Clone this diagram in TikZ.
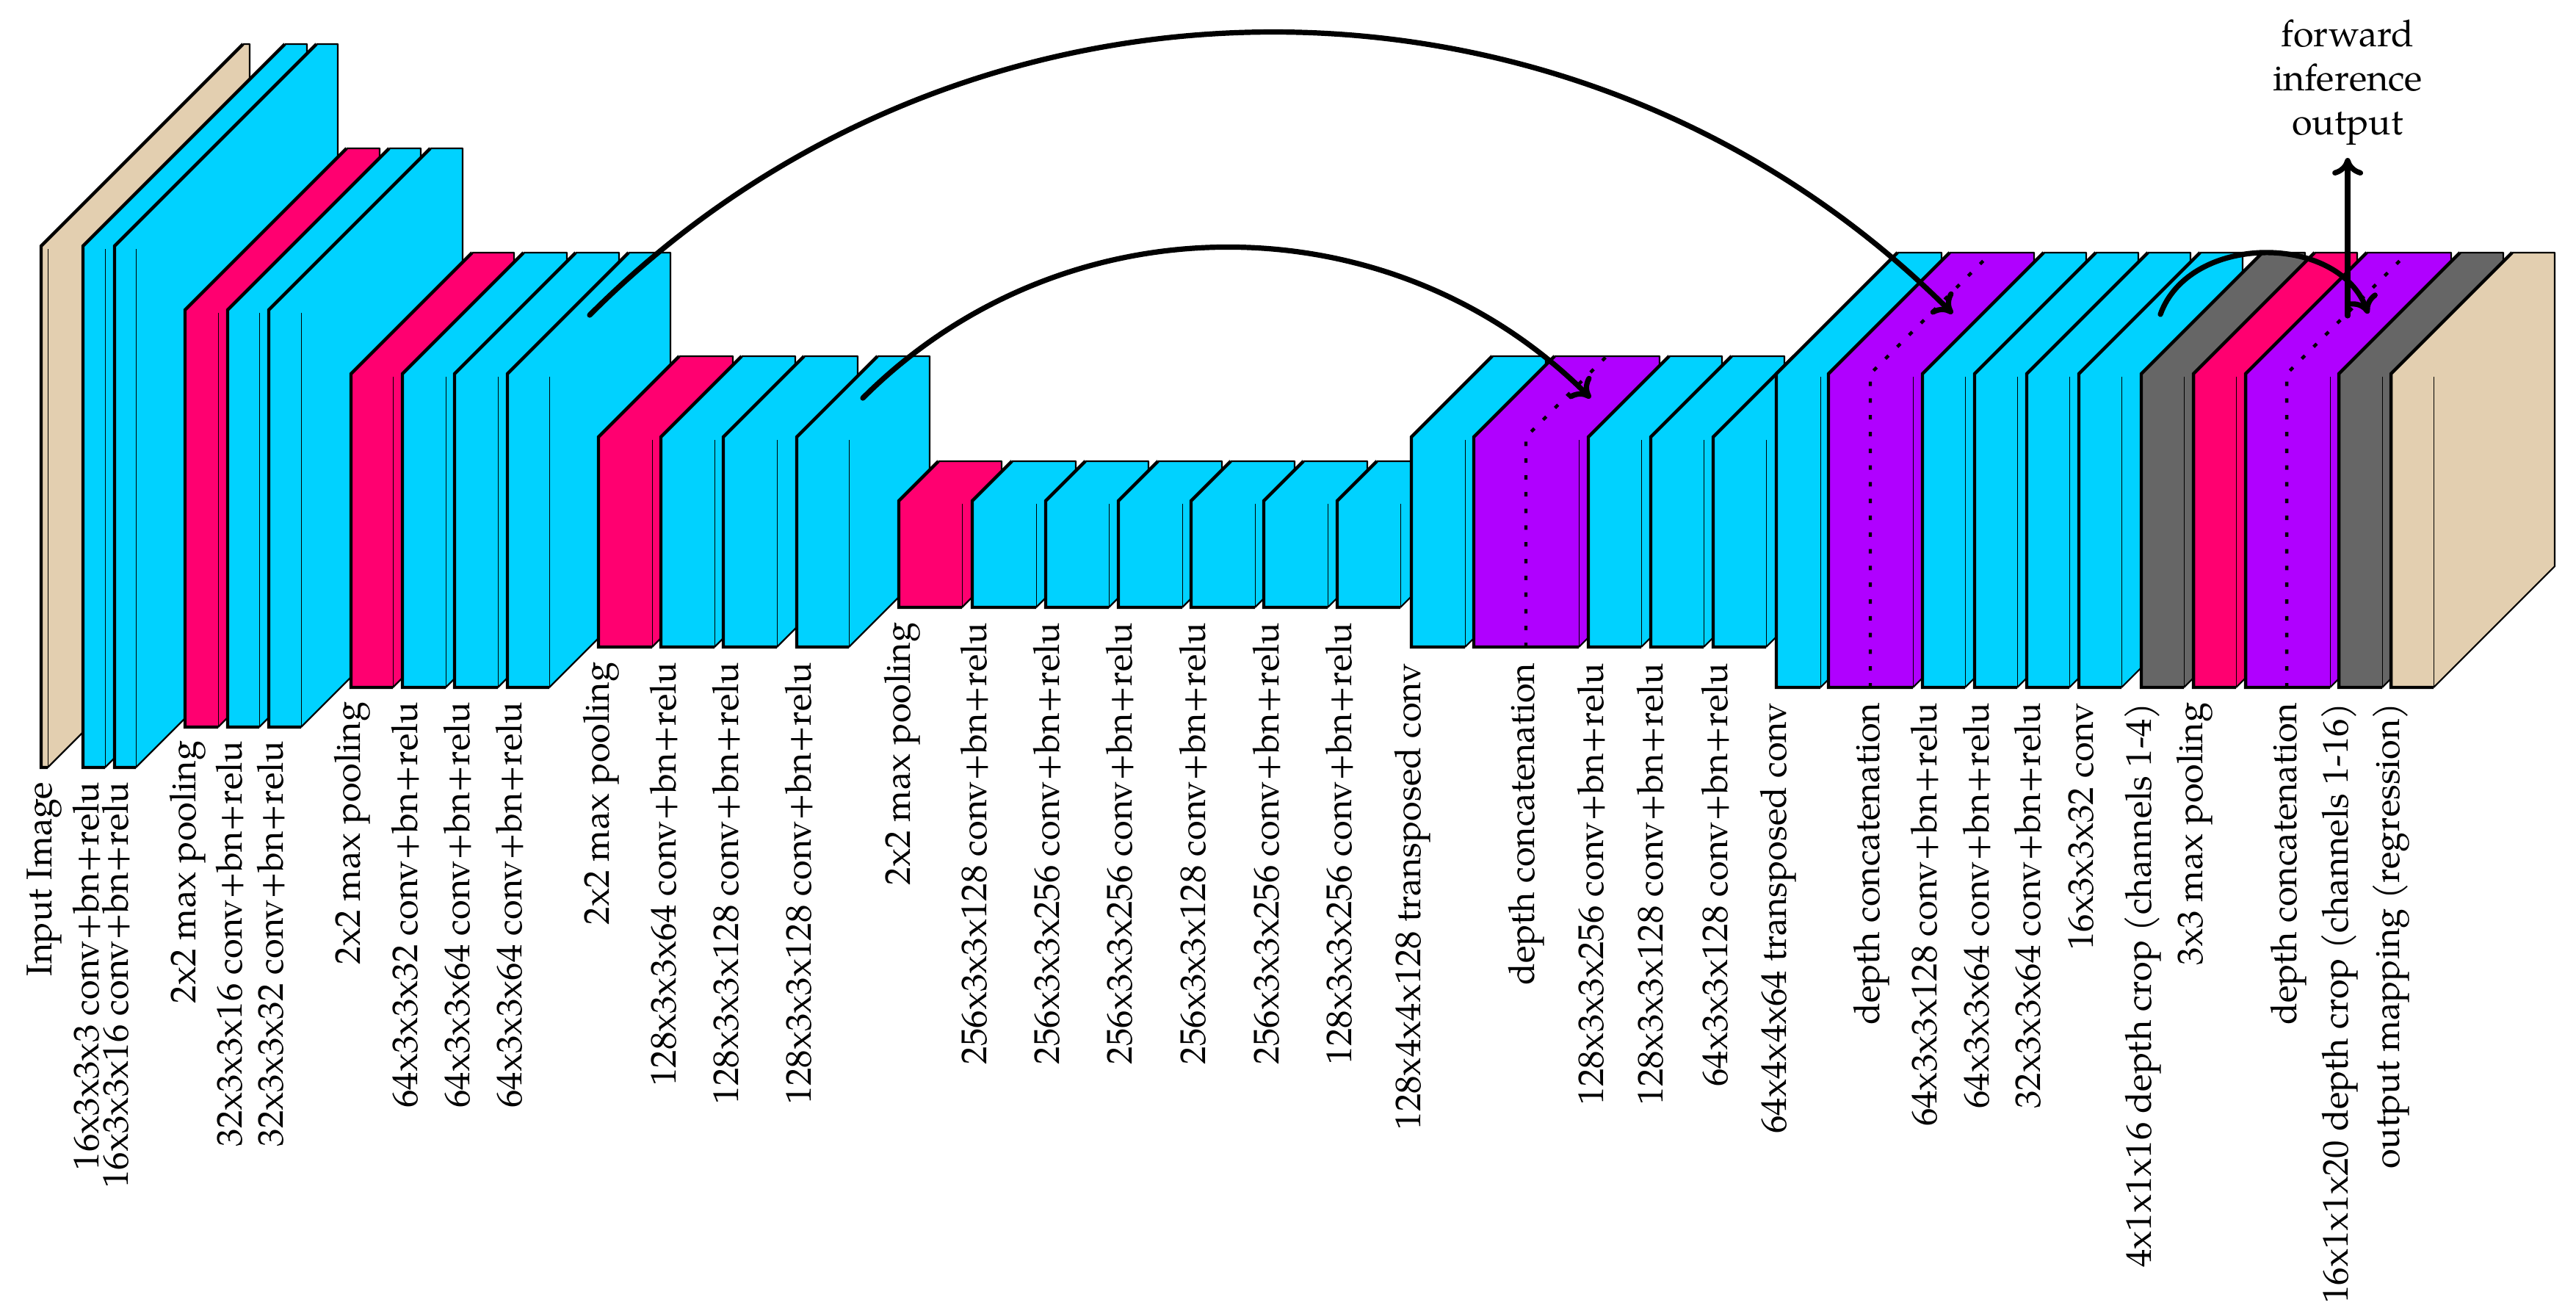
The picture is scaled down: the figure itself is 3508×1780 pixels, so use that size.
\documentclass[tikz,border=0pt]{standalone}
\usepackage{fontspec}
\setmainfont{TeX Gyre Pagella}
\usetikzlibrary{arrows.meta}
\definecolor{cblue}{RGB}{0,210,255}
\definecolor{cpink}{RGB}{255,0,112}
\definecolor{cpurple}{RGB}{176,0,255}
\definecolor{cgray}{RGB}{102,102,102}
\definecolor{cbeige}{RGB}{227,207,176}
\tikzset{
  heavy/.style={line width=1.1pt,line join=miter},
  light/.style={line width=0.55pt,line join=miter},
  hair/.style={line width=0.25pt},
  dots/.style={line width=1.1pt,dash pattern=on 1.5pt off 4.2pt},
  skip/.style={line width=1.8pt,-{Computer Modern Rightarrow[length=6pt,width=10.5pt]},line cap=round},
  lab/.style={rotate=90,anchor=base east,inner sep=0pt,font=\fontsize{12.2}{15}\selectfont},
}
% x0 x1 top bottom depth colour
\newcommand{\blk}[6]{%
  \fill[#6] (#1,#3) -- ({#1+#5},{#3-#5}) -- ({#2+#5},{#3-#5}) -- ({#2+#5},{#4-#5}) -- (#2,#4) -- (#1,#4) -- cycle;
  \draw[light,line join=round] ({#1+#5},{#3-#5}) -- ({#2+#5},{#3-#5}) -- ({#2+#5},{#4-#5}) -- (#2,#4);
  \draw[hair] (#2,{#3+4}) -- (#2,#4);
  \draw[heavy] ({#1+#5},{#3-#5}) -- (#1,#3) -- (#1,#4) -- (#2,#4);
}
% mid top bottom depth
\newcommand{\concatline}[4]{%
  \draw[dots] (#1,#3) -- (#1,#2) -- ({#1+#4},{#2-#4});
}
\newcommand{\lb}[4]{\node[lab] (#1) at (#2,#3) {#4};}
\begin{document}
\begin{tikzpicture}[x=0.25pt,y=-0.25pt]
\useasboundingbox (0,0) rectangle (3508,1780);
% level 1
\blk{56}{65}{335}{1045}{275}{cbeige}
\blk{113}{143}{335}{1045}{275}{cblue}
\blk{156}{185}{335}{1045}{275}{cblue}
% level 2
\blk{252}{297}{422}{990}{220}{cpink}
\blk{310}{353}{422}{990}{220}{cblue}
\blk{366}{410}{422}{990}{220}{cblue}
% level 3
\blk{478}{535}{509}{936}{165}{cpink}
\blk{548}{607}{509}{936}{165}{cblue}
\blk{619}{678}{509}{936}{165}{cblue}
\blk{691}{748}{509}{936}{165}{cblue}
% level 4
\blk{815}{888}{595}{881}{110}{cpink}
\blk{900}{973}{595}{881}{110}{cblue}
\blk{985}{1058}{595}{881}{110}{cblue}
\blk{1085}{1156}{595}{881}{110}{cblue}
% level 5
\blk{1224}{1310}{682}{827}{54}{cpink}
\blk{1324}{1411}{682}{827}{54}{cblue}
\blk{1424}{1510}{682}{827}{54}{cblue}
\blk{1523}{1610}{682}{827}{54}{cblue}
\blk{1622}{1709}{682}{827}{54}{cblue}
\blk{1721}{1808}{682}{827}{54}{cblue}
\blk{1821}{1907}{682}{827}{54}{cblue}
% level 4 up
\blk{1922}{1995}{595}{881}{110}{cblue}
\blk{2007}{2150}{595}{881}{110}{cpurple}
\concatline{2078}{595}{881}{110}
\blk{2163}{2235}{595}{881}{110}{cblue}
\blk{2248}{2320}{595}{881}{110}{cblue}
\blk{2333}{2405}{595}{881}{110}{cblue}
% level 3 up
\blk{2419}{2479}{509}{936}{165}{cblue}
\blk{2490}{2605}{509}{936}{165}{cpurple}
\concatline{2547}{509}{936}{165}
\blk{2618}{2676}{509}{936}{165}{cblue}
\blk{2689}{2747}{509}{936}{165}{cblue}
\blk{2760}{2818}{509}{936}{165}{cblue}
\blk{2831}{2889}{509}{936}{165}{cblue}
\blk{2916}{2974}{509}{936}{165}{cgray}
\blk{2987}{3045}{509}{936}{165}{cpink}
\blk{3058}{3173}{509}{936}{165}{cpurple}
\concatline{3114}{509}{936}{165}
\blk{3185}{3244}{509}{936}{165}{cgray}
\blk{3256}{3314}{509}{936}{165}{cbeige}
% labels
\lb{l01}{70}{1064}{Input Image}
\lb{l02}{134}{1064}{16x3x3x3 conv+bn+relu}
\lb{l03}{174}{1064}{16x3x3x16 conv+bn+relu}
\lb{l04}{266}{1008}{2x2 max pooling}
\lb{l05}{329}{1008}{32x3x3x16 conv+bn+relu}
\lb{l06}{385}{1008}{32x3x3x32 conv+bn+relu}
\lb{l07}{490}{955}{2x2 max pooling}
\lb{l08}{568}{955}{64x3x3x32 conv+bn+relu}
\lb{l09}{639}{955}{64x3x3x64 conv+bn+relu}
\lb{l10}{710}{955}{64x3x3x64 conv+bn+relu}
\lb{l11}{829}{901}{2x2 max pooling}
\lb{l12}{920}{901}{128x3x3x64 conv+bn+relu}
\lb{l13}{1005}{901}{128x3x3x128 conv+bn+relu}
\lb{l14}{1104}{901}{128x3x3x128 conv+bn+relu}
\lb{l15}{1239}{847}{2x2 max pooling}
\lb{l16}{1343}{847}{256x3x3x128 conv+bn+relu}
\lb{l17}{1442}{847}{256x3x3x256 conv+bn+relu}
\lb{l18}{1541}{847}{256x3x3x256 conv+bn+relu}
\lb{l19}{1641}{847}{256x3x3x128 conv+bn+relu}
\lb{l20}{1741}{847}{256x3x3x256 conv+bn+relu}
\lb{l21}{1840}{847}{128x3x3x256 conv+bn+relu}
\lb{l22}{1934}{902}{128x4x4x128 transposed conv}
\lb{l23}{2089}{902}{depth concatenation}
\lb{l24}{2183}{902}{128x3x3x256 conv+bn+relu}
\lb{l25}{2264}{902}{128x3x3x128 conv+bn+relu}
\lb{l26}{2352}{902}{64x3x3x128 conv+bn+relu}
\lb{l27}{2432}{956}{64x4x4x64 transposed conv}
\lb{l28}{2559}{956}{depth concatenation}
\lb{l29}{2637}{956}{64x3x3x128 conv+bn+relu}
\lb{l30}{2708}{956}{64x3x3x64 conv+bn+relu}
\lb{l31}{2778}{956}{32x3x3x64 conv+bn+relu}
\lb{l32}{2850}{956}{16x3x3x32 conv}
\lb{l33}{2929}{956}{4x1x1x16 depth crop (channels 1-4)}
\lb{l34}{2999}{956}{3x3 max pooling}
\lb{l35}{3127}{956}{depth concatenation}
\lb{l36}{3197}{956}{16x1x1x20 depth crop (channels 1-16)}
\lb{l37}{3267}{956}{output mapping (regression)}
\node[align=center,inner sep=0pt,anchor=base,font=\fontsize{12.6}{15}\selectfont] (out) at (3197,183) {forward\\inference\\output};
% connectors
\coordinate (a1) at (803,429);
\coordinate (a2) at (2659,427);
\coordinate (b1) at (1175,542);
\coordinate (b2) at (2166,542);
\coordinate (c1) at (2942,428);
\coordinate (c2) at (3225,427);
\coordinate (u1) at (3197,430);
\coordinate (u2) at (3197,215);
\draw[skip] (a1) to[bend left=45] (a2);
\draw[skip] (b1) to[bend left=45] (b2);
\draw[skip] (c1) to[bend left=70,looseness=1.06] (c2);
\draw[skip] (u1) -- (u2);
\end{tikzpicture}
\end{document}
